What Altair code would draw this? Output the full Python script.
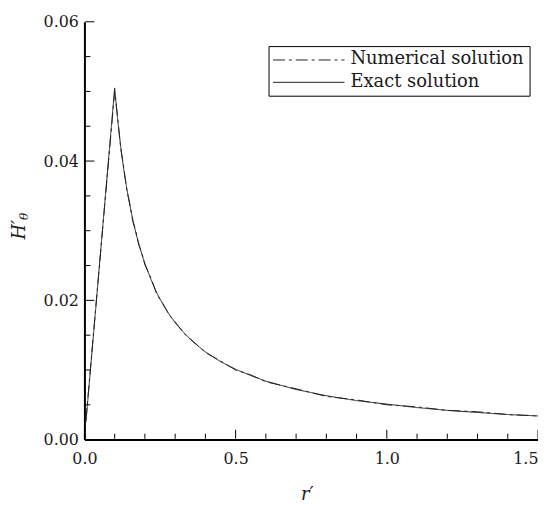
import altair as alt
import pandas as pd

# ---- data ----
series_names = ["Numerical solution", "Exact solution"]

r_exact = [0.005, 0.10, 0.11, 0.12, 0.13, 0.14, 0.15, 0.16, 0.17, 0.18, 0.19, 0.20,
           0.22, 0.24, 0.26, 0.28, 0.30, 0.33, 0.36, 0.40, 0.45, 0.50, 0.55, 0.60,
           0.70, 0.80, 0.90, 1.00, 1.10, 1.20, 1.30, 1.40, 1.50]
h_exact = [0.0025, 0.0505, 0.0459, 0.0421, 0.0388, 0.0361, 0.0337, 0.0316, 0.0297,
           0.0281, 0.0266, 0.0253, 0.0230, 0.0210, 0.0194, 0.0180, 0.0168, 0.0153,
           0.0140, 0.0126, 0.0112, 0.0101, 0.0092, 0.0084, 0.0072, 0.0063, 0.0056,
           0.0051, 0.0046, 0.0042, 0.0039, 0.0036, 0.0034]

r_num = [0.005, 0.10, 0.11, 0.12, 0.13, 0.14, 0.15, 0.16, 0.17, 0.18, 0.19, 0.20,
         0.22, 0.24, 0.26, 0.28, 0.30, 0.33, 0.36, 0.40, 0.45, 0.50, 0.55, 0.60,
         0.70, 0.80, 0.90, 1.00, 1.10, 1.20, 1.30, 1.40, 1.50]
h_num = [0.0028, 0.0500, 0.0462, 0.0418, 0.0391, 0.0358, 0.0339, 0.0313, 0.0299,
         0.0279, 0.0268, 0.0251, 0.0232, 0.0208, 0.0195, 0.0179, 0.0169, 0.0152,
         0.0141, 0.0125, 0.0113, 0.0100, 0.0093, 0.0083, 0.0073, 0.0062, 0.0057,
         0.0050, 0.0047, 0.0042, 0.0040, 0.0036, 0.0034]

x_major = [0.0, 0.5, 1.0, 1.5]
x_minor = [0.1, 0.2, 0.3, 0.4, 0.6, 0.7, 0.8, 0.9, 1.1, 1.2, 1.3, 1.4]
y_major = [0.00, 0.02, 0.04, 0.06]
y_minor = [0.005, 0.010, 0.015, 0.025, 0.030, 0.035, 0.045, 0.050, 0.055]

x_title = "r′"
y_title = "H′"
y_title_sub = "θ"

# ---- tables ----
df = pd.concat([
    pd.DataFrame({"r": r_num, "h": h_num, "series": series_names[0]}),
    pd.DataFrame({"r": r_exact, "h": h_exact, "series": series_names[1]}),
])
ty_major = pd.DataFrame({"h": y_major, "kind": "major"})
ty_minor = pd.DataFrame({"h": y_minor, "kind": "minor"})
tx_major = pd.DataFrame({"r": x_major, "kind": "major"})
tx_minor = pd.DataFrame({"r": x_minor, "kind": "minor"})

FONT = "DejaVu Serif"
INK = "#1a1a1a"
W, H = 457, 421

xs = alt.Scale(domain=[0, 1.5], nice=False, zero=False)
ys = alt.Scale(domain=[0, 0.06], nice=False, zero=False)

x_axis = alt.Axis(values=x_major, format=".1f", ticks=False, grid=False,
                  domainColor="black", domainWidth=2, labelFont=FONT, labelFontSize=16,
                  labelColor=INK, labelPadding=11,
                  labelAlign=alt.expr("datum.value >= 1.5 ? 'right' : 'center'"),
                  title=x_title, titleFont=FONT, titleFontSize=18, titleFontStyle="italic",
                  titleFontWeight="normal", titleColor=INK, titleX=224, titleY=55,
                  titleAlign="center", titleBaseline="middle")
y_axis = alt.Axis(values=y_major, format=".2f", ticks=False, grid=False,
                  domainColor="black", domainWidth=2, labelFont=FONT, labelFontSize=16,
                  labelColor=INK, labelPadding=6,
                  title=y_title, titleFont=FONT, titleFontSize=18, titleFontStyle="italic",
                  titleFontWeight="normal", titleColor=INK, titleX=-65, titleY=209,
                  titleAngle=-90, titleBaseline="middle", titleAlign="center")

dash_scale = alt.Scale(domain=series_names, range=[[12, 4, 3, 4], [1, 0]])
size_scale = alt.Scale(domain=["major", "minor"], range=[9, 5])
wid_scale = alt.Scale(domain=["major", "minor"], range=[2, 1])


def yticks(data, center):
    return alt.Chart(data).mark_tick(color="black", orient="horizontal", opacity=1).encode(
        y=alt.Y("h:Q", scale=ys, axis=y_axis),
        x=alt.value(center),
        size=alt.Size("kind:N", scale=size_scale, legend=None),
        strokeWidth=alt.StrokeWidth("kind:N", scale=wid_scale, legend=None),
    )


def xticks(data, center):
    return alt.Chart(data).mark_tick(color="black", orient="vertical", opacity=1).encode(
        x=alt.X("r:Q", scale=xs, axis=x_axis),
        y=alt.value(center),
        size=alt.Size("kind:N", scale=size_scale, legend=None),
        strokeWidth=alt.StrokeWidth("kind:N", scale=wid_scale, legend=None),
    )


lines = alt.Chart(df).mark_line(strokeWidth=1, color="#222222").encode(
    x=alt.X("r:Q", scale=xs, axis=x_axis),
    y=alt.Y("h:Q", scale=ys, axis=y_axis),
    strokeDash=alt.StrokeDash("series:N", scale=dash_scale, legend=None),
    detail="series:N",
)

one = alt.Data(values=[{"k": 1}])

# subscript of the y title
y_sub = alt.Chart(one).mark_text(align="center", baseline="middle", font=FONT, fontSize=12,
                                 fontStyle="italic", angle=270, color=INK).encode(
    x=alt.value(-61), y=alt.value(196), text=alt.value(y_title_sub))

# legend box
box = alt.Chart(one).mark_rect(fill="white", stroke="black", strokeWidth=1).encode(
    x=alt.value(186), x2=alt.value(449), y=alt.value(25), y2=alt.value(75))
leg_l1 = alt.Chart(one).mark_rule(color="#222222", strokeWidth=1, strokeDash=[12, 4, 3, 4]).encode(
    x=alt.value(190), x2=alt.value(262), y=alt.value(38.5))
leg_l2 = alt.Chart(one).mark_rule(color="#222222", strokeWidth=1).encode(
    x=alt.value(190), x2=alt.value(262), y=alt.value(61))
leg_t1 = alt.Chart(one).mark_text(align="left", baseline="middle", font=FONT, fontSize=18,
                                  color=INK).encode(
    x=alt.value(268), y=alt.value(38), text=alt.value(series_names[0]))
leg_t2 = alt.Chart(one).mark_text(align="left", baseline="middle", font=FONT, fontSize=18,
                                  color=INK).encode(
    x=alt.value(268), y=alt.value(61), text=alt.value(series_names[1]))

chart = alt.layer(
    lines,
    yticks(ty_major, 5.5), yticks(ty_minor, 3.5),
    xticks(tx_major, H - 5.5), xticks(tx_minor, H - 3.5),
    y_sub, box, leg_l1, leg_l2, leg_t1, leg_t2
).properties(
    width=W, height=H,
    autosize=alt.AutoSizeParams(type="none"),
    padding={"left": 77, "top": 12, "right": 0, "bottom": 64},
    background="white",
).configure_view(strokeWidth=0)

chart.save("out.html", embed_options={"renderer": "svg", "actions": False})
